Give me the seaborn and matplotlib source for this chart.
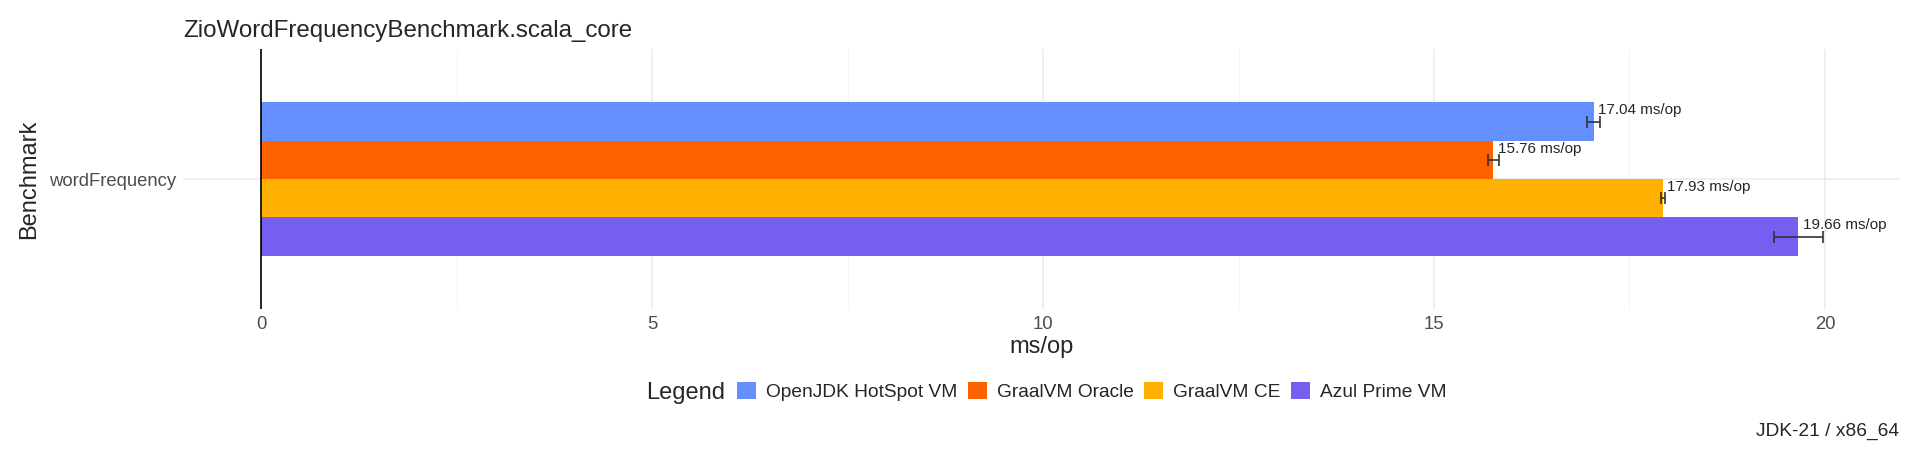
import numpy as np
import pandas as pd
import matplotlib
matplotlib.use("Agg")
import matplotlib.pyplot as plt
from matplotlib.patches import Patch
from matplotlib.ticker import MultipleLocator
import seaborn as sns

# data
benchmarks = ["wordFrequency"]
vms = ["OpenJDK HotSpot VM", "GraalVM Oracle", "GraalVM CE", "Azul Prime VM"]
scores = [17.04, 15.76, 17.93, 19.66]
errors = [0.08, 0.07, 0.03, 0.31]
colors = ["#648FFF", "#FE6100", "#FFB000", "#785EF0"]

df = pd.DataFrame({
    "Benchmark": benchmarks * len(vms),
    "VM": vms,
    "Score": scores,
    "Error": errors,
})

sns.set_style("white")
plt.rcParams["font.family"] = ["Liberation Sans", "DejaVu Sans"]

fig = plt.figure(figsize=(19.2, 4.54), dpi=100)
ax = fig.add_axes([0.0953, 0.319, 0.8943, 0.573])

sns.barplot(data=df, x="Score", y="Benchmark", hue="VM", hue_order=vms,
            palette=colors, orient="h", width=0.9, errorbar=None,
            saturation=1, ax=ax, legend=False, zorder=3, linewidth=0)

# error bars and labels placed on the bars drawn by seaborn
bars = [p for p in ax.patches if p.get_width() > 0]
for bar, (_, row) in zip(bars, df.iterrows()):
    yc = bar.get_y() + bar.get_height() / 2
    ax.errorbar(row["Score"], yc, xerr=row["Error"], color="#333333",
                capsize=4, elinewidth=1.2, capthick=1.2, zorder=4)
    ax.annotate(f"{row['Score']:.2f} ms/op", (row["Score"], yc),
                xytext=(3, 3), textcoords="offset points",
                ha="left", va="bottom", fontsize=11, zorder=5)

ax.axvline(0, color="black", lw=1.2, zorder=4)
ax.set_xlim(-1.0, 20.96)
ax.set_ylim(0.763, -0.763)
ax.xaxis.set_major_locator(MultipleLocator(5))
ax.xaxis.set_minor_locator(MultipleLocator(2.5))
ax.grid(which="major", color="#EBEBEB", lw=1.1, zorder=0)
ax.grid(which="minor", axis="x", color="#F2F2F2", lw=0.6, zorder=0)
for s in ax.spines.values():
    s.set_visible(False)
ax.tick_params(axis="both", which="major", length=3, width=0.8,
               color="#333333", labelsize=13.3, labelcolor="#4D4D4D", pad=2)
ax.tick_params(which="minor", length=0)

ax.set_xlabel("ms/op", fontsize=17, labelpad=2)
ax.set_ylabel("Benchmark", fontsize=17, labelpad=6)
ax.set_title("ZioWordFrequencyBenchmark.scala_core", fontsize=17.4,
             loc="left", x=-0.0, pad=9)

handles = [Patch(facecolor=c, edgecolor="none") for c in colors]
fig.legend(handles, vms, loc="center left", bbox_to_anchor=(0.380, 0.137),
           ncol=4, frameon=False, fontsize=13.8, handlelength=1.0,
           handleheight=1.0, handletextpad=0.5, columnspacing=0.55,
           borderaxespad=0)
fig.text(0.3775, 0.135, "Legend", fontsize=17, ha="right", va="center")
fig.text(0.989, 0.05, "JDK-21 / x86_64", fontsize=13.8, ha="right",
         va="center")

fig.savefig("out.png", dpi=100)
